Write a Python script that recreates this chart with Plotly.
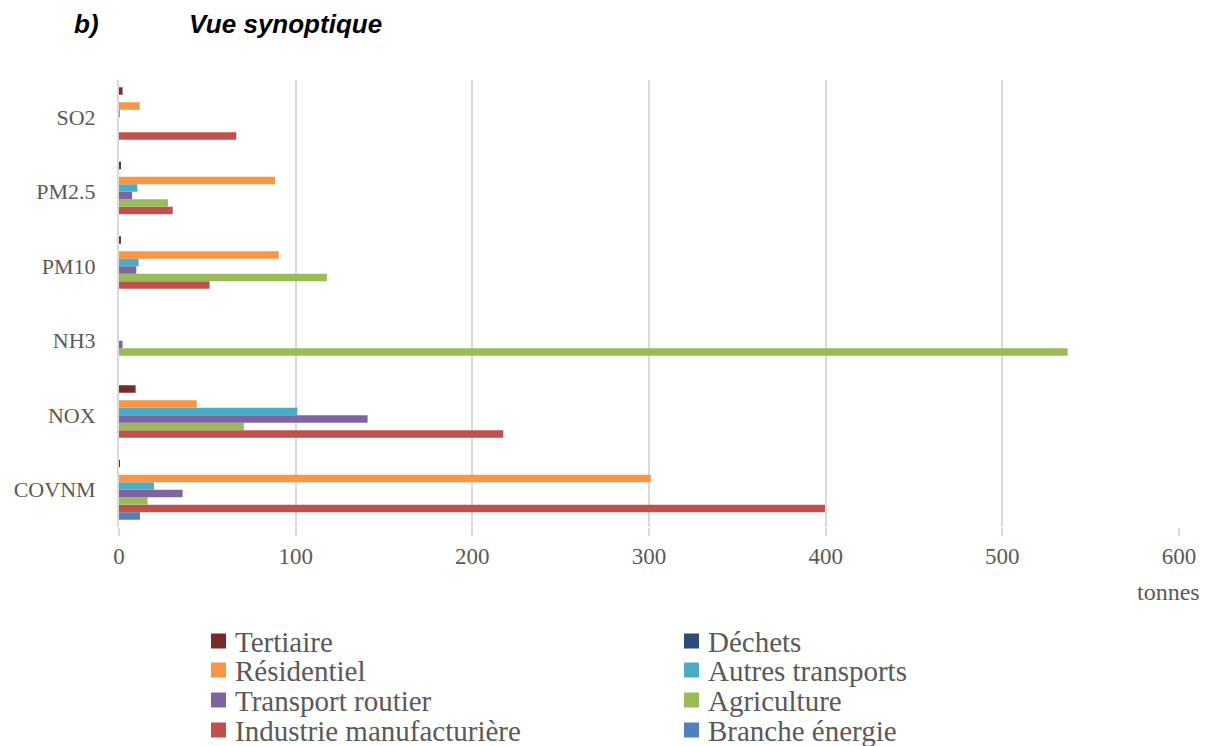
import plotly.graph_objects as go

# Pollutants, listed bottom to top on the category axis
polluants = ["COVNM", "NOX", "NH3", "PM10", "PM2.5", "SO2"]

# Emissions (tonnes) per sector, in the same pollutant order
tertiaire = [0.5, 9.4, 0, 1, 1, 2]
dechets = [0, 0, 0, 0, 0, 0]
residentiel = [301, 44, 0, 90.4, 88.3, 11.7]
autres_transports = [19.8, 101, 0, 11.1, 10.4, 0.5]
transport_routier = [36, 140.7, 2, 9.8, 7.4, 0]
agriculture = [16.2, 70.7, 537, 117.7, 27.7, 0]
industrie = [399.6, 217.5, 0, 51.3, 30.4, 66.4]
branche_energie = [11.9, 0, 0, 0, 0, 0]

x_ticks = [0, 100, 200, 300, 400, 500, 600]

# Sector name, values, colour — drawn top to bottom within each group
series = [
    ("Tertiaire", tertiaire, "#772C2A"),
    ("Déchets", dechets, "#2C4D75"),
    ("Résidentiel", residentiel, "#F79646"),
    ("Autres transports", autres_transports, "#4BACC6"),
    ("Transport routier", transport_routier, "#8064A2"),
    ("Agriculture", agriculture, "#9BBB59"),
    ("Industrie manufacturière", industrie, "#C0504D"),
    ("Branche énergie", branche_energie, "#4F81BD"),
]

W, H = 1205, 746
ML, MR, MT, MB = 119, 26, 80, 219
plot_w = W - ML - MR
plot_h = H - MT - MB


def px_x(px):
    return (px - ML) / plot_w


def px_y(py):
    return 1 - (py - MT) / plot_h


fig = go.Figure()
# Plotly stacks grouped horizontal bars from the bottom, so add them reversed
for name, vals, color in reversed(series):
    fig.add_trace(go.Bar(
        y=polluants, x=vals, name=name, orientation="h",
        marker=dict(color=color, line=dict(width=0)),
        showlegend=False,
    ))

text_font = "Liberation Serif"
grey = "#595959"
title_font = dict(family="Liberation Sans", size=26, color="black")

annotations = [
    dict(text="<b><i>b)</i></b>", x=px_x(72), y=px_y(24)),
    dict(text="<b><i>Vue synoptique</i></b>", x=px_x(187), y=px_y(24)),
]
for a in annotations:
    a.update(xref="paper", yref="paper", xanchor="left", yanchor="middle",
             showarrow=False, font=title_font)

annotations.append(dict(
    text="tonnes", x=px_x(1168), y=px_y(592), xref="paper", yref="paper",
    xanchor="center", yanchor="middle", showarrow=False,
    font=dict(family=text_font, size=24, color=grey)))

# Two-column legend: squares and labels laid out row by row
shapes = []
col_sq = [211, 684]
col_tx = [233, 706]
row_y = [641, 670, 700, 730]
for i, (name, _, color) in enumerate(series):
    col, row = i % 2, i // 2
    cy = row_y[row]
    shapes.append(dict(
        type="rect", xref="paper", yref="paper",
        x0=px_x(col_sq[col]), x1=px_x(col_sq[col] + 15),
        y0=px_y(cy + 7.5), y1=px_y(cy - 7.5),
        fillcolor=color, line=dict(width=0)))
    annotations.append(dict(
        text=name, x=px_x(col_tx[col]), y=px_y(cy + 1),
        xref="paper", yref="paper", xanchor="left", yanchor="middle",
        showarrow=False, font=dict(family=text_font, size=29, color=grey)))

fig.update_layout(
    width=W, height=H,
    margin=dict(l=ML, r=MR, t=MT, b=MB, autoexpand=False),
    paper_bgcolor="white", plot_bgcolor="white",
    barmode="group", bargap=0.195, bargroupgap=0,
    showlegend=False,
    xaxis=dict(
        range=[0, 600], tickvals=x_ticks, ticktext=[str(v) for v in x_ticks],
        showgrid=True, gridcolor="#D9D9D9", gridwidth=2,
        zeroline=False, showline=False,
        ticks="outside", ticklen=8, tickcolor="#D9D9D9", tickwidth=2,
        tickfont=dict(family=text_font, size=23, color=grey),
    ),
    yaxis=dict(
        categoryorder="array", categoryarray=polluants,
        showgrid=False, zeroline=False,
        showline=True, linecolor="#D9D9D9", linewidth=2,
        ticks="", ticklabelstandoff=17,
        tickfont=dict(family=text_font, size=22, color=grey),
    ),
    shapes=shapes,
    annotations=annotations,
)

fig.write_html("out.html")
